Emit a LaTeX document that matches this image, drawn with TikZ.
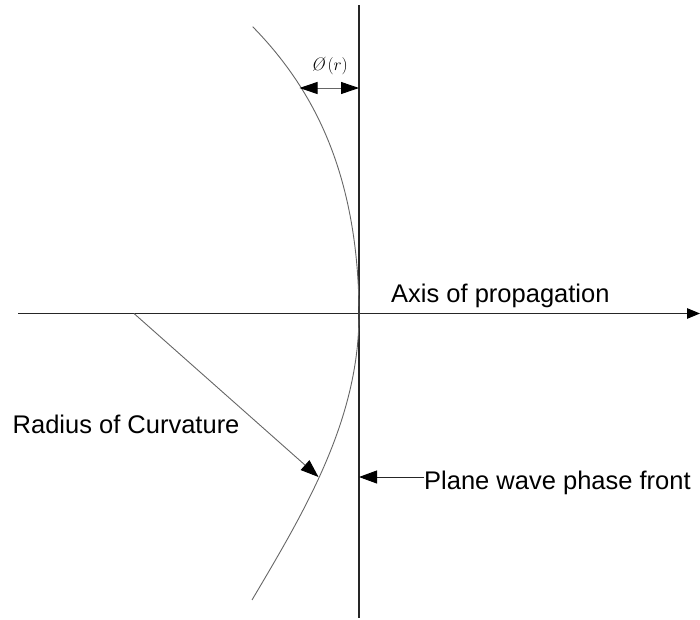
\documentclass[tikz,border=0pt]{standalone}
\usepackage{fontspec}
\setmainfont{Liberation Sans}
\newfontfamily\lmrfont{Latin Modern Roman}
\usetikzlibrary{arrows.meta}
\begin{document}
\begin{tikzpicture}[x=1pt,y=-1pt,
  lbl/.style={inner sep=0pt,anchor=base west,font=\fontsize{25.5}{30}\selectfont},
  axisline/.style={line width=1.1pt,black!85},
  thinline/.style={line width=0.9pt,black!60},
  bigtip/.style={-{Triangle[length=18pt,width=13pt,color=black]}}]
\useasboundingbox (0,0) rectangle (700,619);
% coordinates
\coordinate (vtop) at (359,5);
\coordinate (vbot) at (359,618);
\coordinate (hleft) at (18,313.5);
\coordinate (hright) at (700,313.5);
\coordinate (rstart) at (134,313.5);
\coordinate (rtip) at (318.5,477);
\coordinate (phiL) at (299.5,88);
\coordinate (phiR) at (359,88);
\coordinate (pwtip) at (359,477);
% plane wave phase front (vertical line)
\draw[axisline] (vtop) -- (vbot);
% axis of propagation
\draw[axisline,-{Triangle[length=13pt,width=10.5pt,color=black]}] (hleft) -- (hright);
% curved wavefront
\draw[thinline]
  plot[domain=-2.873:0,samples=70,variable=\u] ({359-8.72*\u*\u-0.504*\u*\u*\u*\u},{314+100*\u})
  -- plot[domain=0:2.86,samples=70,variable=\u] ({359-15.84*\u*\u+0.337*\u*\u*\u*\u},{314+100*\u});
% labels
\node[lbl] (axis) at (391,302.3) {Axis of propagation};
\node[lbl] (roc) at (12.5,433.3) {Radius of Curvature};
\node[lbl] (pw) at (424,489.3) {Plane wave phase front};
\node[inner sep=0pt,font=\fontsize{18}{20}\selectfont] (phi) at (329.5,66) {{\lmrfont\itshape Ø}$\,(r)$};
% arrows
\draw[thinline,bigtip] (rstart) -- (rtip);
\draw[thinline,{Triangle[length=18pt,width=12pt,color=black]}-{Triangle[length=18pt,width=12pt,color=black]}] (phiL) -- (phiR);
\draw[axisline,line width=0.9pt,bigtip] (pw.west |- pwtip) -- (pwtip);
\end{tikzpicture}
\end{document}
